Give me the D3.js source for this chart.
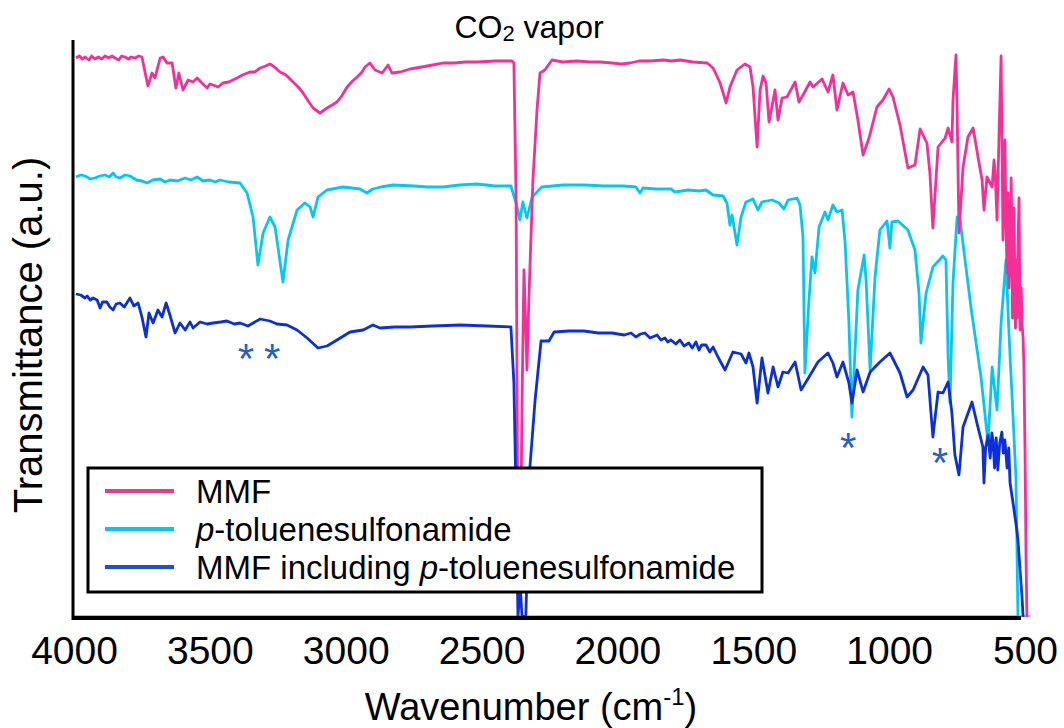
<!DOCTYPE html>
<html>
<head>
<meta charset="utf-8">
<script src="https://cdn.jsdelivr.net/npm/d3@7"></script>
<style>
  body { margin: 0; background: #fff; }
  svg { display: block; }
  text { font-family: "Liberation Sans", Arial, Helvetica, sans-serif; fill: #000; }
</style>
</head>
<body>
<svg id="chart" width="1064" height="728"></svg>
<script>
// FT-IR spectra, wavenumber (cm-1) vs. transmittance (arbitrary, offset traces)
const xTicks = [4000, 3500, 3000, 2500, 2000, 1500, 1000, 500];

const seriesLabels = ["MMF", "p-toluenesulfonamide", "MMF including p-toluenesulfonamide"];

// MMF
const mmf = [
  [3993,560],[3980,562],[3970,559],[3959,561],[3945,558],[3935,562],[3923,559],[3910,561],
  [3898,559],[3886,562],[3872,560],[3860,562],[3849,560],[3835,558],[3825,562],[3812,561],
  [3800,559],[3790,561],[3775,560],[3762,562],[3750,561],
  [3728,532],[3713,545],[3702,540],[3683,560],[3672,561],[3658,555],[3639,555],[3625,530],
  [3614,545],[3599,528],[3580,538],[3562,536],[3547,540],[3529,535],[3510,530],[3500,534],
  [3488,533],[3470,531],[3452,535],[3430,536],[3400,540],[3380,543],[3352,546],[3335,546],
  [3315,550],[3295,552],[3279,554],[3262,551],[3242,546],[3220,543],[3194,536],[3175,531],
  [3157,525],[3138,517],[3120,510],[3095,505],[3069,510],[3050,513],[3032,516],[3015,522],
  [2995,531],[2975,537],[2958,541],[2940,546],[2929,551],[2911,555],
  [2892,548],[2866,545],[2844,553],[2830,545],[2800,546],[2763,549],[2720,551],[2680,553],
  [2642,555],[2600,555],[2560,556],[2517,556],[2450,557],[2388,557],
  [2381,555],[2373,418],[2366,58],[2358,28],[2351,218],[2344,348],[2337,288],[2333,248],
  [2326,318],[2311,438],[2296,508],[2285,545],[2267,548],[2241,558],[2200,556],[2150,557],
  [2100,556],[2064,556],[2020,555],[1985,554],[1954,555],[1920,557],[1880,557],[1830,558],
  [1800,557],[1770,558],[1722,556],[1670,555],[1648,550],[1622,535],[1600,515],
  [1586,531],[1560,548],[1531,554],[1512,551],[1501,531],[1486,471],[1475,528],[1464,542],
  [1453,535],[1442,496],[1420,528],[1409,498],[1394,520],[1376,521],[1346,536],[1332,516],
  [1317,523],[1291,536],[1280,531],[1247,539],[1225,526],[1207,543],[1192,508],[1170,535],
  [1151,523],[1133,526],[1115,498],[1096,463],[1074,480],[1045,511],[1023,518],[1000,529],
  [986,521],[960,493],[931,450],[905,453],[886,489],[861,475],[850,445],[839,390],
  [820,471],[794,480],[783,490],[769,476],[765,518],[754,563],[750,511],[743,385],
  [728,451],[710,481],[691,490],[673,461],[658,438],[651,408],[640,441],[621,431],
  [614,458],[610,446],[606,420],[603,398],[596,478],[588,562],[581,378],[577,430],
  [574,478],[570,395],[566,345],[563,425],[559,330],[555,358],[551,440],[548,381],
  [546,300],[544,328],[540,410],[537,315],[535,290],[533,358],[529,300],[526,368],
  [522,420],[518,288],[514,330],[511,295],[507,280],[504,251],[500,168],[496,58],[493,1]
];

// p-toluenesulfonamide
const ptsa = [
  [3993,441],[3975,443],[3959,442],[3940,439],[3923,440],[3905,442],[3886,443],[3870,441],
  [3856,445],[3845,441],[3831,440],[3812,443],[3794,442],[3770,438],[3750,437],[3731,435],
  [3710,438],[3683,439],[3665,436],[3647,438],[3620,437],[3591,440],[3570,438],[3547,441],
  [3525,437],[3500,438],[3480,436],[3463,438],[3430,436],[3389,435],[3363,425],
  [3341,401],[3323,353],[3304,385],[3279,401],[3260,391],[3231,336],[3212,378],[3179,408],
  [3150,415],[3131,411],[3120,401],[3102,421],[3069,428],[3010,431],[2947,429],[2922,425],
  [2900,429],[2870,431],[2826,433],[2750,432],[2700,431],[2642,431],[2580,433],[2517,434],
  [2450,432],[2392,432],[2373,415],[2359,398],[2348,416],
  [2333,400],[2314,421],[2278,431],[2200,433],[2123,433],[2050,432],[1980,432],[1932,431],
  [1917,425],[1906,430],[1860,429],[1803,429],
  [1788,426],[1740,428],[1700,427],[1674,428],[1648,423],[1611,422],[1597,415],[1586,393],
  [1578,403],[1560,373],
  [1545,401],[1527,416],[1501,419],[1483,408],[1468,416],[1431,418],[1405,415],[1387,409],
  [1372,418],[1339,420],[1328,413],[1317,381],[1313,301],[1310,245],[1295,318],[1284,361],
  [1273,345],[1258,391],[1236,406],[1225,398],[1207,413],[1192,406],[1173,408],[1162,375],
  [1148,295],[1137,201],[1115,328],[1092,363],[1085,338],[1070,248],[1052,341],[1034,388],
  [1008,397],[997,370],[990,396],[967,397],[931,388],[905,368],[890,325],[883,275],
  [864,325],[839,351],[802,362],[791,358],[783,261],[776,215],[765,335],[750,401],
  [739,398],[699,311],[662,241],[636,175],[621,251],[603,208],[588,295],[570,358],
  [559,285],[544,201],[533,138],[526,1]
];

// MMF including p-toluenesulfonamide
const mmfPtsa = [
  [3993,324],[3975,323],[3960,320],[3952,322],[3940,318],[3930,320],[3915,318],[3904,310],
  [3895,316],[3879,316],[3868,311],[3856,308],[3845,314],[3831,315],[3815,311],[3794,320],
  [3780,312],[3764,315],[3750,301],[3735,281],[3724,305],[3709,295],[3691,308],[3676,301],
  [3661,315],[3647,303],[3628,285],[3610,295],[3591,288],[3573,296],[3562,290],[3536,296],
  [3510,294],[3488,295],[3460,296],[3437,297],[3410,294],[3389,295],[3360,292],[3315,299],
  [3279,297],[3253,294],[3216,293],[3179,288],
  [3142,280],[3102,270],[3069,272],[3032,278],[2984,286],[2936,288],[2900,293],[2874,290],
  [2820,291],[2763,291],[2680,292],[2579,293],[2480,292],[2392,291],[2381,235],[2373,118],
  [2366,1],[2358,33],[2351,1],
  [2337,3],[2322,151],[2303,218],[2281,277],[2252,277],[2233,286],[2180,287],[2123,287],
  [2070,285],[2020,285],[1975,283],[1950,285],[1932,281],[1915,284],[1899,285],[1880,280],
  [1854,283],[1840,278],[1825,280],[1815,276],[1803,278],[1785,274],[1770,278],[1755,272],
  [1737,275],[1725,270],[1711,276],[1700,268],[1690,273],[1674,273],[1660,266],[1648,271],
  [1630,261],[1604,248],[1575,266],[1545,264],[1527,255],
  [1516,265],[1501,251],[1486,215],[1468,260],[1446,225],[1427,251],[1409,231],[1391,246],
  [1372,245],[1346,256],[1324,228],[1295,241],[1262,256],[1225,265],[1207,255],[1192,241],
  [1170,256],[1148,235],[1137,215],[1118,248],[1096,226],[1070,246],[1034,256],[997,265],
  [960,245],[934,221],[912,228],[875,251],[857,243],[839,181],[820,226],[802,225],
  [783,236],[769,205],[758,163],[743,143],[728,191],[695,216],[677,195],[655,171],
  [651,135],[645,170],[636,183],[628,160],[622,185],[618,178],[612,150],[606,180],
  [600,148],[593,175],[585,186],[580,165],[574,178],[566,150],[560,170],[555,135],[544,115],
  [530,88],[526,78],[511,21],[507,1]
];

// Marked p-toluenesulfonamide bands in the mixture trace
const markedBands = [[3367,270],[3271,270],[1151,181],[813,166]];

const colors = ["#f52f95", "#00c8f5", "#0b30d8"];
const legendColors = ["#e6407f", "#00c8f5", "#1a4fd6"];
const markColor = "#1f5fd0";

const svg = d3.select("#chart");

const x = d3.scaleLinear().domain([4000, 500]).range([74, 1025]);
const y = d3.scaleLinear().domain([0, 580]).range([618, 38]);

const line = d3.line().x(d => x(d[0])).y(d => y(d[1]));

// faint baseline under the axis
svg.append("line")
  .attr("x1", x(4000)).attr("x2", x(480))
  .attr("y1", y(0) - 2).attr("y2", y(0) - 2)
  .attr("stroke", "#8aa4ec").attr("stroke-width", 1.5);

// spectra
[ptsa, mmf, mmfPtsa].forEach((data, i) => {
  const ci = [1, 0, 2][i];
  svg.append("path")
    .datum(data)
    .attr("d", line)
    .attr("fill", "none")
    .attr("stroke", colors[ci])
    .attr("stroke-width", 2.8)
    .attr("stroke-linejoin", "round");
});

// band markers
svg.selectAll("text.mark")
  .data(markedBands)
  .join("text")
  .attr("class", "mark")
  .attr("x", d => x(d[0]))
  .attr("y", d => y(d[1]) + 25)
  .attr("text-anchor", "middle")
  .style("font-size", "42px")
  .style("fill", markColor)
  .text("*");

// axes
const xAxis = d3.axisBottom(x).tickValues(xTicks).tickSize(0).tickPadding(18)
  .tickFormat(d3.format("d"));
const gx = svg.append("g").attr("transform", `translate(0,${y(0)})`).call(xAxis);
gx.select(".domain").remove();
gx.selectAll("text")
  .style("font-size", "39px")
  .style("font-family", "'Liberation Sans', Arial, sans-serif")
  .attr("fill", "#000");

svg.append("line")
  .attr("x1", x(4000) - 2).attr("x2", x(515))
  .attr("y1", y(0)).attr("y2", y(0))
  .attr("stroke", "#000").attr("stroke-width", 4);

svg.append("line")
  .attr("x1", x(4000) - 1).attr("x2", x(4000) - 1)
  .attr("y1", y(578)).attr("y2", y(0) + 2)
  .attr("stroke", "#000").attr("stroke-width", 3);

// title
const title = svg.append("text")
  .attr("x", 529).attr("y", 38)
  .attr("text-anchor", "middle")
  .style("font-size", "32px");
title.append("tspan").text("CO");
title.append("tspan").style("font-size", "22px").attr("dy", 3).text("2");
title.append("tspan").attr("dy", -3).text(" vapor");

// axis titles
const xt = svg.append("text")
  .attr("x", 531).attr("y", 720)
  .attr("text-anchor", "middle")
  .style("font-size", "38px");
xt.append("tspan").text("Wavenumber (cm");
xt.append("tspan").style("font-size", "24px").attr("dy", -15).text("-1");
xt.append("tspan").attr("dy", 15).text(")");

svg.append("text")
  .attr("transform", "translate(42,335) rotate(-90)")
  .attr("text-anchor", "middle")
  .style("font-size", "40px")
  .text("Transmittance (a.u.)");

// legend
const lg = svg.append("g").attr("transform", "translate(88,468)");
lg.append("rect")
  .attr("width", 674).attr("height", 124)
  .attr("fill", "#fff").attr("stroke", "#000").attr("stroke-width", 3);

seriesLabels.forEach((label, i) => {
  const cy = 23 + i * 38;
  lg.append("line")
    .attr("x1", 17).attr("x2", 86)
    .attr("y1", cy).attr("y2", cy)
    .attr("stroke", legendColors[i]).attr("stroke-width", 4);
  const t = lg.append("text")
    .attr("x", 108).attr("y", cy + 12)
    .style("font-size", "33px");
  const parts = label.split("p-");
  if (parts.length === 1) {
    t.append("tspan").text(label);
  } else {
    if (parts[0]) t.append("tspan").text(parts[0]);
    t.append("tspan").style("font-style", "italic").text("p");
    t.append("tspan").text("-" + parts[1]);
  }
});
</script>
</body>
</html>
